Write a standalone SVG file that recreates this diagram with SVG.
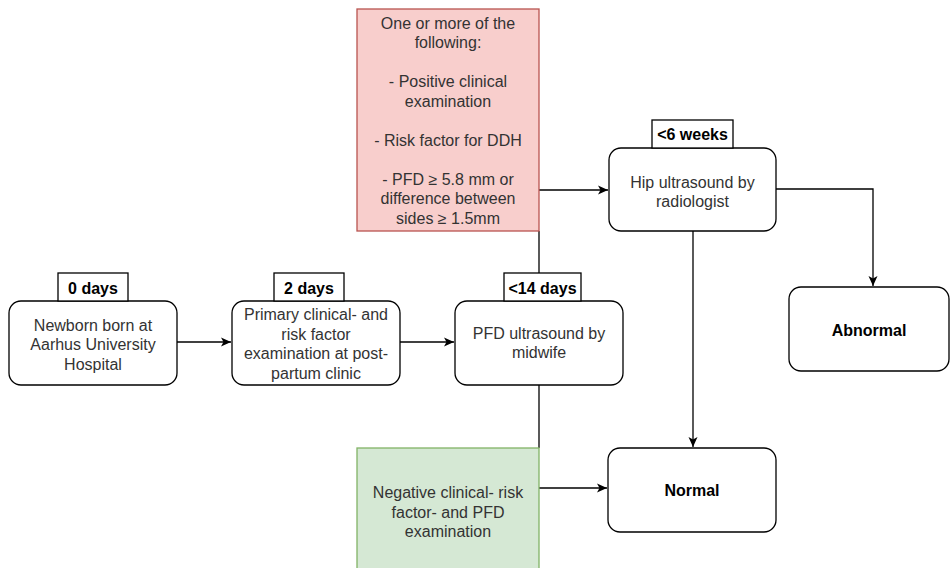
<svg xmlns="http://www.w3.org/2000/svg" width="951" height="568" viewBox="0 0 951 568">
<defs>
<marker id="arr" markerUnits="userSpaceOnUse" markerWidth="12" markerHeight="10" refX="10" refY="5" orient="auto">
<path d="M0,0.5 L10,5 L0,9.5 L2.5,5 z" fill="#000"/>
</marker>
<style>
.node{fill:#fff;stroke:#000;stroke-width:1.3}
.lab{fill:#fff;stroke:#000;stroke-width:1.3}
.t{font-family:"Liberation Sans",Arial,sans-serif;font-size:16px;fill:#333;text-anchor:middle}
.b{font-family:"Liberation Sans",Arial,sans-serif;font-size:16px;font-weight:bold;fill:#000;text-anchor:middle}
.e{fill:none;stroke:#000;stroke-width:1.3}
.ea{fill:none;stroke:#000;stroke-width:1.3;marker-end:url(#arr)}
</style>
</defs>
<rect width="951" height="568" fill="#fff"/>
<g id="edges">
<path class="ea" d="M177,342 H231"/>
<path class="ea" d="M400,342 H454"/>
<path class="e" d="M539,273 V231"/>
<path class="e" d="M539,385 V448"/>
<path class="ea" d="M539,190 H608"/>
<path class="ea" d="M539,488 H607"/>
<path class="ea" d="M776,189 H873 V286"/>
<path class="ea" d="M693,231 V447"/>
</g>
<g id="red">
<rect x="357" y="9" width="182" height="222" fill="#f8cecc" stroke="#b85450" stroke-width="1.3"/>
<text class="t"><tspan x="448" y="28.5">One or more of the</tspan><tspan x="448" y="48">following:</tspan><tspan x="448" y="87">- Positive clinical</tspan><tspan x="448" y="106.5">examination</tspan><tspan x="448" y="145.5">- Risk factor for DDH</tspan><tspan x="448" y="184.5">- PFD ≥ 5.8 mm or</tspan><tspan x="448" y="204">difference between</tspan><tspan x="448" y="223.5">sides ≥ 1.5mm</tspan></text>
</g>
<g id="green">
<rect x="357" y="448" width="182" height="128" fill="#d5e8d4" stroke="#82b366" stroke-width="1.3"/>
<text class="t"><tspan x="448" y="498">Negative clinical- risk</tspan><tspan x="448" y="517.5">factor- and PFD</tspan><tspan x="448" y="537">examination</tspan></text>
</g>
<g id="n1">
<rect class="node" x="9" y="301" width="168" height="84" rx="12"/>
<text class="t"><tspan x="93" y="330.5">Newborn born at</tspan><tspan x="93" y="350">Aarhus University</tspan><tspan x="93" y="369.5">Hospital</tspan></text>
<rect class="lab" x="58" y="273" width="70" height="28"/>
<text class="b" x="93" y="293.5">0 days</text>
</g>
<g id="n2">
<rect class="node" x="232" y="301" width="168" height="84" rx="12"/>
<text class="t"><tspan x="316" y="320">Primary clinical- and</tspan><tspan x="316" y="339.5">risk factor</tspan><tspan x="316" y="359">examination at post-</tspan><tspan x="316" y="378.5">partum clinic</tspan></text>
<rect class="lab" x="274" y="273" width="70" height="28"/>
<text class="b" x="309" y="293.5">2 days</text>
</g>
<g id="n3">
<rect class="node" x="455" y="301" width="168" height="84" rx="12"/>
<text class="t"><tspan x="539" y="338.5">PFD ultrasound by</tspan><tspan x="539" y="358">midwife</tspan></text>
<rect class="lab" x="504" y="273" width="77" height="28"/>
<text class="b" x="542.5" y="293.5">&lt;14 days</text>
</g>
<g id="n4">
<rect class="node" x="609" y="148" width="167" height="83" rx="12"/>
<text class="t"><tspan x="692.5" y="187.5">Hip ultrasound by</tspan><tspan x="692.5" y="207">radiologist</tspan></text>
<rect class="lab" x="652" y="120" width="81" height="28"/>
<text class="b" x="692.5" y="140">&lt;6 weeks</text>
</g>
<g id="n5">
<rect class="node" x="789" y="287" width="160" height="84" rx="12"/>
<text class="b" x="869" y="335.5">Abnormal</text>
</g>
<g id="n6">
<rect class="node" x="608" y="448" width="168" height="84" rx="12"/>
<text class="b" x="692" y="495.5">Normal</text>
</g>
</svg>
